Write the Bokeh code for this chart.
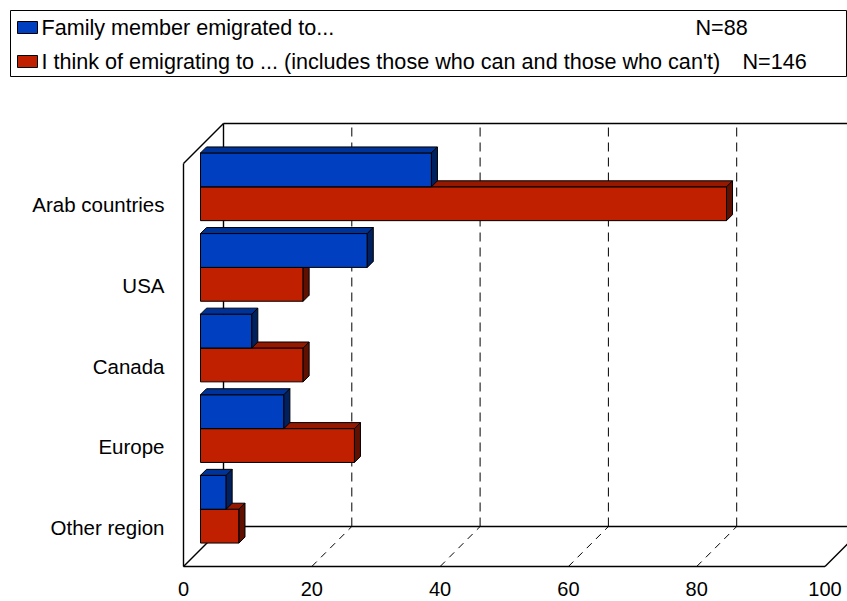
import numpy as np
from bokeh.plotting import figure
from bokeh.models import Range1d, ColumnDataSource
from bokeh.core.properties import value
from bokeh.embed import file_html
from bokeh.resources import INLINE

# ---- data -------------------------------------------------------------
categories = ["Arab countries", "USA", "Canada", "Europe", "Other region"]
family_emigrated = [36, 26, 8, 13, 4]      # N=88
think_emigrating = [82, 16, 16, 24, 6]     # N=146
x_ticks = [0, 20, 40, 60, 80, 100]
series_labels = [
    "Family member emigrated to...",
    "I think of emigrating to ... (includes those who can and those who can't)",
]
series_n = ["N=88", "N=146"]

# ---- styling ----------------------------------------------------------
FONT = "Liberation Sans"
BLUE = ("#0040C0", "#003399", "#00205F")   # front, top, side
RED = ("#C02000", "#951900", "#601000")

# ---- pseudo-3D geometry -----------------------------------------------
W, H = 847, 601
X0_PX, Y0_PX = 183, 566          # front-plane origin on the canvas
PX_X, PX_Y = 6.415, 80.6         # pixels per percent / per category
DEPTH_PX = 40                    # depth of the box, drawn at 45 degrees

x_start = -X0_PX / PX_X
x_end = x_start + W / PX_X
y_end = Y0_PX / PX_Y
y_start = y_end - H / PX_Y

DX = DEPTH_PX / PX_X
DY = DEPTH_PX / PX_Y
XMAX = x_ticks[-1]
NCAT = len(categories)


def proj(v, c, z):
    """Map a point (value, category, depth 0..1) onto the flat plot."""
    return v + z * DX, c + z * DY


def px2x(px):
    return x_start + px / PX_X


def px2y(py):
    return y_end - py / PX_Y


p = figure(width=W, height=H, x_range=Range1d(x_start, x_end),
           y_range=Range1d(y_start, y_end), output_backend="svg",
           toolbar_location=None, min_border=0, x_axis_location=None,
           y_axis_location=None, outline_line_color=None,
           background_fill_color="white", border_fill_color="white")
p.xgrid.visible = False
p.ygrid.visible = False

# ---- walls and floor --------------------------------------------------
def seg(a, b):
    (x1, y1), (x2, y2) = proj(*a), proj(*b)
    return [x1, x2], [y1, y2]


dashed_floor = [seg((v, 0, 0), (v, 0, 1)) for v in x_ticks[1:-1]]
dashed_wall = [seg((v, 0, 1), (v, NCAT, 1)) for v in x_ticks[1:-1]]
p.multi_line([s[0] for s in dashed_wall], [s[1] for s in dashed_wall],
             line_color="black", line_width=1, line_dash="9 6")
p.multi_line([s[0] for s in dashed_floor], [s[1] for s in dashed_floor],
             line_color="black", line_width=1, line_dash="7 6")

edges = [
    seg((0, 0, 0), (XMAX, 0, 0)),
    seg((0, 0, 1), (XMAX, 0, 1)),
    seg((0, 0, 0), (0, 0, 1)),
    seg((XMAX, 0, 0), (XMAX, 0, 1)),
    seg((0, 0, 0), (0, NCAT, 0)),
    seg((0, NCAT, 0), (0, NCAT, 1)),
    seg((0, 0, 1), (0, NCAT, 1)),
    seg((0, NCAT, 1), (XMAX, NCAT, 1)),
    seg((XMAX, 0, 1), (XMAX, NCAT, 1)),
]
p.multi_line([e[0] for e in edges], [e[1] for e in edges],
             line_color="black", line_width=1.4)

# ---- 3D bars ----------------------------------------------------------
Z0, BZ, BH = 0.425, 0.15, 0.42


def box_faces(v, bottom, top, colors):
    pts = lambda lst: ([proj(*q)[0] for q in lst], [proj(*q)[1] for q in lst])
    front = pts([(0, bottom, Z0), (v, bottom, Z0), (v, top, Z0), (0, top, Z0)])
    topf = pts([(0, top, Z0), (v, top, Z0), (v, top, Z0 + BZ), (0, top, Z0 + BZ)])
    side = pts([(v, bottom, Z0), (v, bottom, Z0 + BZ), (v, top, Z0 + BZ), (v, top, Z0)])
    return [(front, colors[0]), (topf, colors[1]), (side, colors[2])]


faces = []
for i, cat in enumerate(categories):
    cc = NCAT - 0.5 - i
    faces += box_faces(think_emigrating[i], cc - BH, cc, RED)
    faces += box_faces(family_emigrated[i], cc, cc + BH, BLUE)

bars = ColumnDataSource(dict(
    xs=[f[0][0] for f in faces], ys=[f[0][1] for f in faces],
    color=[f[1] for f in faces]))
p.patches("xs", "ys", source=bars, fill_color="color",
          line_color="black", line_width=1)

# ---- axis labels --------------------------------------------------------
cat_y = [NCAT - 0.5 - i for i in range(NCAT)]
p.text(x=[px2x(164)] * NCAT, y=cat_y, text=categories,
       text_font=value(FONT), text_font_size="20.5px", text_align="right",
       text_baseline="middle", text_color="black", y_offset=1)
p.text(x=x_ticks, y=[0] * len(x_ticks), text=[str(t) for t in x_ticks],
       text_font=value(FONT), text_font_size="20px", text_align="center",
       text_baseline="middle", text_color="black", y_offset=22)

# ---- legend -------------------------------------------------------------
p.quad(left=[px2x(10)], right=[px2x(846)], top=[px2y(10)], bottom=[px2y(76)],
       fill_color="white", line_color="black", line_width=1)
row_px = [27, 61]
p.quad(left=[px2x(17)] * 2, right=[px2x(37)] * 2,
       top=[px2y(r - 6) for r in row_px], bottom=[px2y(r + 6) for r in row_px],
       fill_color=[BLUE[0], RED[0]], line_color="black", line_width=1)
p.text(x=[px2x(41)] * 2, y=[px2y(r) for r in row_px], text=series_labels,
       text_font=value(FONT), text_font_size="21.6px", text_align="left",
       text_baseline="middle", text_color="black")
p.text(x=[px2x(695), px2x(742)], y=[px2y(r) for r in row_px], text=series_n,
       text_font=value(FONT), text_font_size="21.6px", text_align="left",
       text_baseline="middle", text_color="black")

open("out.html", "w").write(file_html(p, INLINE))
